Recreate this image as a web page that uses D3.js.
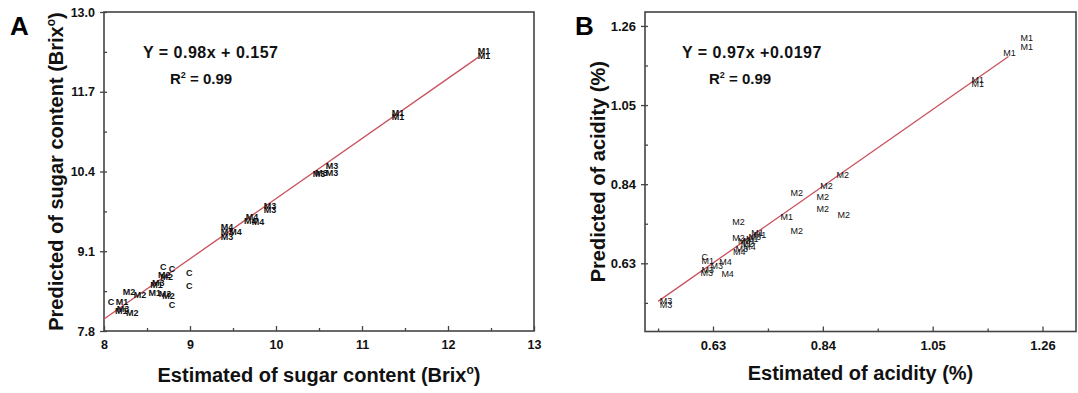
<!DOCTYPE html>
<html>
<head>
<meta charset="utf-8">
<script src="https://cdn.jsdelivr.net/npm/d3@7"></script>
<style>
  html, body { margin: 0; padding: 0; background: #fff; }
  svg { display: block; font-family: "Liberation Sans", Arial, sans-serif; }
</style>
</head>
<body>
<svg id="chart" width="1078" height="393"></svg>
<script>
// ---- Panel A: sugar content (Brix) ----
const sugarGroups = ["M1","M1","M1","M1","M3","M3","M3","M3","M3","M3","M4","M4","M4","M4","M3","M3","M4",
  "C","C","C","C","M2","M2","M3","M1","M2","M2","M1","M3","M2","C","C","M1","M3","M2","M1"];
const sugarEstimated = [12.42,12.42,11.42,11.42,10.53,10.65,10.65,10.50,9.93,9.93,9.72,9.79,9.70,9.43,9.43,9.43,9.53,
  8.69,8.79,8.99,8.99,8.73,8.70,8.63,8.61,8.29,8.42,8.59,8.71,8.75,8.79,8.08,8.21,8.22,8.33,8.20];
const sugarPredicted = [12.37,12.29,11.35,11.29,10.38,10.49,10.38,10.36,9.83,9.78,9.66,9.58,9.60,9.50,9.41,9.33,9.42,
  8.84,8.81,8.75,8.53,8.68,8.71,8.58,8.55,8.44,8.39,8.42,8.41,8.37,8.22,8.27,8.27,8.16,8.09,8.12];
const sugarTicksX = [8, 9, 10, 11, 12, 13];
const sugarMinorX = [8.5, 9.5, 10.5, 11.5, 12.5];
const sugarTicksY = [7.8, 9.1, 10.4, 11.7, 13.0];
const sugarMinorY = [8.45, 9.75, 11.05, 12.35];
const sugarFit = { slope: 0.98, intercept: 0.157, from: 8, to: 12.35 };

// ---- Panel B: acidity (%) ----
const acidGroups = ["M1","M1","M1","M1","M1","M2","M2","M2","M2","M2","M2","M1","M2","M1","M2","M2",
  "M3","M1","M3","M1","M4","M3","M2","M4","M1","C","M1","M4","M3","M3","M3","M4","M3","M3"];
const acidEstimated = [1.23,1.23,1.197,1.136,1.136,0.878,0.847,0.79,0.84,0.84,0.88,0.771,0.79,0.715,0.679,0.679,
  0.69,0.70,0.71,0.72,0.70,0.685,0.695,0.68,0.705,0.614,0.62,0.654,0.637,0.62,0.618,0.658,0.54,0.54];
const acidPredicted = [1.228,1.205,1.189,1.117,1.107,0.865,0.835,0.817,0.806,0.775,0.758,0.753,0.716,0.71,0.74,0.697,
  0.688,0.69,0.70,0.705,0.672,0.668,0.68,0.66,0.695,0.647,0.637,0.633,0.624,0.612,0.604,0.601,0.531,0.52];
const acidTicks = [0.63, 0.84, 1.05, 1.26];
const acidMinor = [0.525, 0.735, 0.945, 1.155];
const acidFit = { slope: 0.97, intercept: 0.0197, from: 0.525, to: 1.195 };

const svg = d3.select("#chart");
svg.append("rect").attr("width", 1078).attr("height", 393).attr("fill", "#fff");

function drawPanel(cfg) {
  const x = d3.scaleLinear().domain(cfg.xDomain).range([cfg.left, cfg.right]);
  const y = d3.scaleLinear().domain(cfg.yDomain).range([cfg.bottom, cfg.top]);
  const g = svg.append("g");

  // major x ticks (inward) with labels
  g.append("g").attr("transform", `translate(0,${cfg.bottom})`)
    .call(d3.axisBottom(x).tickValues(cfg.xTicks).tickFormat(cfg.xFormat)
      .tickSizeInner(-5).tickSizeOuter(0).tickPadding(9));
  // minor x ticks
  g.append("g").attr("transform", `translate(0,${cfg.bottom})`)
    .call(d3.axisBottom(x).tickValues(cfg.xMinor).tickFormat("").tickSizeInner(-3).tickSizeOuter(0));
  // major y ticks with labels, crossing the axis line
  const ya = g.append("g").attr("transform", `translate(${cfg.left},0)`)
    .call(d3.axisLeft(y).tickValues(cfg.yTicks).tickFormat(cfg.yFormat)
      .tickSizeInner(4).tickSizeOuter(0).tickPadding(5));
  ya.selectAll(".tick line").attr("x1", 3);
  g.append("g").attr("transform", `translate(${cfg.left},0)`)
    .call(d3.axisLeft(y).tickValues(cfg.yMinor).tickFormat("").tickSizeInner(-3).tickSizeOuter(0));

  g.selectAll(".domain").remove();
  g.selectAll(".tick line").attr("stroke", "#444").attr("stroke-width", 1.3);
  g.selectAll(".tick text").attr("fill", "#111").attr("font-size", cfg.tickFont).attr("font-weight", "bold")
    .attr("font-family", "'Liberation Sans', Arial, sans-serif");

  // frame
  g.append("rect").attr("x", cfg.left).attr("y", cfg.top)
    .attr("width", cfg.right - cfg.left).attr("height", cfg.bottom - cfg.top)
    .attr("fill", "none").attr("stroke", "#444").attr("stroke-width", 1.6);

  // regression line
  const f = cfg.fit;
  g.append("line")
    .attr("x1", x(f.from)).attr("y1", y(f.slope * f.from + f.intercept))
    .attr("x2", x(f.to)).attr("y2", y(f.slope * f.to + f.intercept))
    .attr("stroke", "#c9505c").attr("stroke-width", 1.3);

  // sample labels as point markers
  g.append("g").selectAll("text").data(cfg.groups).join("text")
    .attr("x", (d, i) => x(cfg.est[i]))
    .attr("y", (d, i) => y(cfg.pred[i]))
    .attr("text-anchor", "middle").attr("dominant-baseline", "central")
    .attr("font-size", 9).attr("font-weight", cfg.markWeight).attr("fill", "#111")
    .text(d => d);

  // axis titles
  const xt = g.append("text").attr("x", (cfg.left + cfg.right) / 2).attr("y", cfg.xTitleY)
    .attr("text-anchor", "middle").attr("font-size", 20).attr("font-weight", "bold").attr("fill", "#111");
  cfg.xTitle(xt);
  const yt = g.append("text")
    .attr("transform", `translate(${cfg.yTitleX},${(cfg.top + cfg.bottom) / 2}) rotate(-90)`)
    .attr("text-anchor", "middle").attr("font-size", 20).attr("font-weight", "bold").attr("fill", "#111");
  cfg.yTitle(yt);

  // equation
  g.append("text").attr("x", cfg.eqX).attr("y", 58).attr("font-size", 16).attr("font-weight", "bold")
    .attr("letter-spacing", 0.5).attr("fill", "#111").text(cfg.eqText);
  const r = g.append("text").attr("x", cfg.eqX + 27).attr("y", 84).attr("font-size", 15)
    .attr("font-weight", "bold").attr("fill", "#111");
  r.append("tspan").text("R");
  r.append("tspan").attr("font-size", 9).attr("dy", -6).text("2");
  r.append("tspan").attr("dy", 6).text(" = 0.99");

  // panel letter
  g.append("text").attr("x", cfg.letterX).attr("y", 35).attr("font-size", 26).attr("font-weight", "bold")
    .attr("fill", "#000").text(cfg.letter);
}

function brixTitle(prefix) {
  return t => {
    t.append("tspan").text(prefix + " (Brix");
    t.append("tspan").attr("font-size", 12).attr("dy", -8).text("o");
    t.append("tspan").attr("dy", 8).text(")");
  };
}

drawPanel({
  left: 104, right: 534, top: 12, bottom: 331,
  xDomain: [8, 13], yDomain: [7.8, 13.0],
  xTicks: sugarTicksX, xMinor: sugarMinorX, yTicks: sugarTicksY, yMinor: sugarMinorY,
  xFormat: d3.format("d"), yFormat: d3.format(".1f"), tickFont: 12.5,
  fit: sugarFit, groups: sugarGroups, est: sugarEstimated, pred: sugarPredicted, markWeight: "bold",
  xTitleY: 382, yTitleX: 63,
  xTitle: brixTitle("Estimated of sugar content"),
  yTitle: brixTitle("Predicted of sugar content"),
  eqX: 143, eqText: "Y = 0.98x + 0.157",
  letter: "A", letterX: 10
});

drawPanel({
  left: 645, right: 1076, top: 12, bottom: 331.5,
  xDomain: [0.5, 1.324], yDomain: [0.449, 1.297],
  xTicks: acidTicks, xMinor: acidMinor, yTicks: acidTicks, yMinor: acidMinor,
  xFormat: d3.format(".2f"), yFormat: d3.format(".2f"), tickFont: 13,
  fit: acidFit, groups: acidGroups, est: acidEstimated, pred: acidPredicted, markWeight: "normal",
  xTitleY: 380, yTitleX: 605,
  xTitle: t => t.text("Estimated of acidity (%)"),
  yTitle: t => t.text("Predicted of acidity (%)"),
  eqX: 682, eqText: "Y = 0.97x +0.0197",
  letter: "B", letterX: 575
});
</script>
</body>
</html>
